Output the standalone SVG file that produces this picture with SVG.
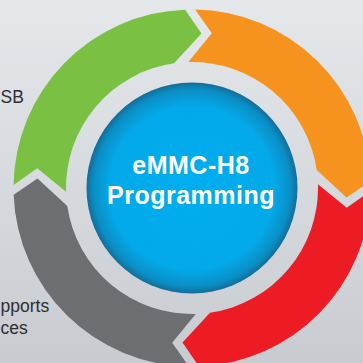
<svg xmlns="http://www.w3.org/2000/svg" width="363" height="363" viewBox="0 0 363 363">
  <defs>
    <linearGradient id="bg" x1="0" y1="0" x2="0" y2="1">
      <stop offset="0" stop-color="#e5e8eb"/>
      <stop offset="1" stop-color="#c8ccd0"/>
    </linearGradient>
    <radialGradient id="blue" cx="0.5" cy="0.5" r="0.5">
      <stop offset="0" stop-color="#00aeef"/>
      <stop offset="0.78" stop-color="#03a9e8"/>
      <stop offset="0.93" stop-color="#0a8fc6"/>
      <stop offset="1" stop-color="#136d98"/>
    </radialGradient>
    <path id="seg" d="M 13.53,184.89 A 178.5 178.5 0 0 1 185.15,9.63 L 201.5,33.5 L 174.03,63.29 A 126 126 0 0 0 66.06,191.74 L 37.27,168.18 Z"/>
  </defs>
  <style>
    .side { font-family: "Liberation Sans", Arial, sans-serif; font-size: 17.5px; fill: #2e2e2e; }
    .title { font-family: "Liberation Sans", Arial, sans-serif; font-size: 25px; font-weight: bold; fill: #ffffff; letter-spacing: 0.5px; }
  </style>
  <rect x="0" y="0" width="363" height="363" fill="url(#bg)"/>
  <g id="side-labels">
    <text class="side" x="0.5" y="103">SB</text>
    <text class="side" x="0.5" y="312">pports</text>
    <text class="side" x="0.5" y="334">ces</text>
  </g>
  <g id="connectors">
    <use id="seg-green" href="#seg" fill="#7ac143"/>
    <use id="seg-orange" href="#seg" fill="#f6921e" transform="rotate(90 192 188)"/>
    <use id="seg-red" href="#seg" fill="#ed1c24" transform="rotate(180 192 188)"/>
    <use id="seg-gray" href="#seg" fill="#6d6e72" transform="rotate(270 192 188)"/>
  </g>
  <g id="center-node">
    <circle cx="192" cy="188" r="105.5" fill="url(#blue)"/>
    <text class="title" x="191" y="174" text-anchor="middle">eMMC-H8</text>
    <text class="title" x="191" y="204" text-anchor="middle">Programming</text>
  </g>
</svg>
